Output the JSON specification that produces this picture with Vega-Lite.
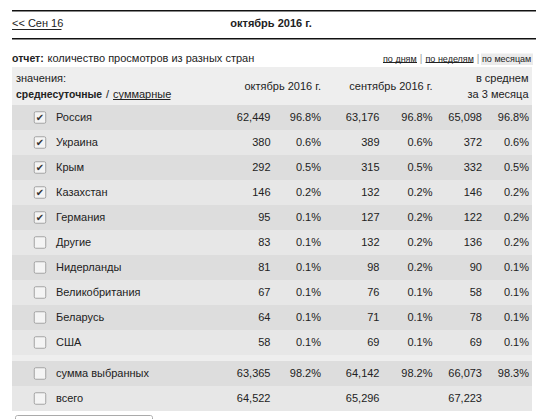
{
  "$schema": "https://vega.github.io/schema/vega-lite/v6.json",
  "width": 536,
  "height": 419,
  "autosize": {"type": "none"},
  "padding": 0,
  "background": "white",
  "config": {
    "view": {"stroke": null},
    "axis": {"disable": true},
    "text": {"font": "Liberation Sans", "fontSize": 11, "color": "#222", "baseline": "middle"}
  },
  "datasets": {
    "rows": [
      {"name": "Россия", "checked": true, "oct": 62449, "octPct": 0.968, "sep": 63176, "sepPct": 0.968, "avg": 65098, "avgPct": 0.968},
      {"name": "Украина", "checked": true, "oct": 380, "octPct": 0.006, "sep": 389, "sepPct": 0.006, "avg": 372, "avgPct": 0.006},
      {"name": "Крым", "checked": true, "oct": 292, "octPct": 0.005, "sep": 315, "sepPct": 0.005, "avg": 332, "avgPct": 0.005},
      {"name": "Казахстан", "checked": true, "oct": 146, "octPct": 0.002, "sep": 132, "sepPct": 0.002, "avg": 146, "avgPct": 0.002},
      {"name": "Германия", "checked": true, "oct": 95, "octPct": 0.001, "sep": 127, "sepPct": 0.002, "avg": 122, "avgPct": 0.002},
      {"name": "Другие", "checked": false, "oct": 83, "octPct": 0.001, "sep": 132, "sepPct": 0.002, "avg": 136, "avgPct": 0.002},
      {"name": "Нидерланды", "checked": false, "oct": 81, "octPct": 0.001, "sep": 98, "sepPct": 0.002, "avg": 90, "avgPct": 0.001},
      {"name": "Великобритания", "checked": false, "oct": 67, "octPct": 0.001, "sep": 76, "sepPct": 0.001, "avg": 58, "avgPct": 0.001},
      {"name": "Беларусь", "checked": false, "oct": 64, "octPct": 0.001, "sep": 71, "sepPct": 0.001, "avg": 78, "avgPct": 0.001},
      {"name": "США", "checked": false, "oct": 58, "octPct": 0.001, "sep": 69, "sepPct": 0.001, "avg": 69, "avgPct": 0.001}
    ],
    "totals": [
      {"name": "сумма выбранных", "checked": false, "oct": 63365, "octPct": 0.982, "sep": 64142, "sepPct": 0.982, "avg": 66073, "avgPct": 0.983},
      {"name": "всего", "checked": false, "oct": 64522, "sep": 65296, "avg": 67223}
    ],
    "blank": [{}]
  },
  "resolve": {"scale": {"y": "independent"}},
  "layer": [
    {"data": {"name": "blank"}, "mark": {"type": "rect", "fill": "#eeeeee"},
     "encoding": {"x": {"datum": 12, "scale": {"domain": [0, 536], "range": [0, 536], "nice": false, "zero": false}}, "x2": {"datum": 532},
                  "y": {"datum": 67, "scale": {"domain": [0, 419], "range": [0, 419], "nice": false, "zero": false}}, "y2": {"datum": 411}}},
    {"data": {"name": "blank"}, "mark": {"type": "rect", "fill": "#ffffff", "stroke": "#aaaaaa", "strokeWidth": 1, "cornerRadius": 2},
     "encoding": {"x": {"datum": 15.5}, "x2": {"datum": 152.5},
                  "y": {"datum": 415.5, "scale": {"domain": [0, 419], "range": [0, 419], "nice": false, "zero": false}}, "y2": {"datum": 440}}},
    {"data": {"name": "blank"}, "mark": {"type": "rule", "stroke": "#111", "strokeWidth": 1.5},
     "encoding": {"x": {"datum": 12}, "x2": {"datum": 536},
                  "y": {"datum": 10.7, "scale": {"domain": [0, 419], "range": [0, 419], "nice": false, "zero": false}}}},
    {"data": {"name": "blank"}, "mark": {"type": "rule", "stroke": "#111", "strokeWidth": 1.5},
     "encoding": {"x": {"datum": 12}, "x2": {"datum": 536},
                  "y": {"datum": 38.7, "scale": {"domain": [0, 419], "range": [0, 419], "nice": false, "zero": false}}}},
    {"data": {"name": "blank"}, "mark": {"type": "text", "text": "<< Сен 16", "align": "left"},
     "encoding": {"x": {"datum": 12}, "y": {"datum": 24.3, "scale": {"domain": [0, 419], "range": [0, 419], "nice": false, "zero": false}}}},
    {"data": {"name": "blank"}, "mark": {"type": "rule", "stroke": "#222", "strokeWidth": 1},
     "encoding": {"x": {"datum": 12}, "x2": {"datum": 61.5},
                  "y": {"datum": 29.5, "scale": {"domain": [0, 419], "range": [0, 419], "nice": false, "zero": false}}}},
    {"data": {"name": "blank"}, "mark": {"type": "text", "text": "октябрь 2016 г.", "align": "center", "fontWeight": "bold"},
     "encoding": {"x": {"datum": 271}, "y": {"datum": 24.3, "scale": {"domain": [0, 419], "range": [0, 419], "nice": false, "zero": false}}}},
    {"data": {"name": "blank"}, "mark": {"type": "text", "text": "отчет:", "align": "left", "fontWeight": "bold", "fontSize": 10.5},
     "encoding": {"x": {"datum": 12}, "y": {"datum": 59, "scale": {"domain": [0, 419], "range": [0, 419], "nice": false, "zero": false}}}},
    {"data": {"name": "blank"}, "mark": {"type": "text", "text": "количество просмотров из разных стран", "align": "left"},
     "encoding": {"x": {"datum": 47.5}, "y": {"datum": 59, "scale": {"domain": [0, 419], "range": [0, 419], "nice": false, "zero": false}}}},
    {"data": {"name": "blank"}, "mark": {"type": "rect", "fill": "#ebebeb"},
     "encoding": {"x": {"datum": 481}, "x2": {"datum": 533},
                  "y": {"datum": 53.5, "scale": {"domain": [0, 419], "range": [0, 419], "nice": false, "zero": false}}, "y2": {"datum": 65}}},
    {"data": {"name": "blank"}, "mark": {"type": "text", "text": "по дням", "align": "left", "fontSize": 9},
     "encoding": {"x": {"datum": 383}, "y": {"datum": 58.7, "scale": {"domain": [0, 419], "range": [0, 419], "nice": false, "zero": false}}}},
    {"data": {"name": "blank"}, "mark": {"type": "rule", "stroke": "#222", "strokeWidth": 1},
     "encoding": {"x": {"datum": 383}, "x2": {"datum": 417},
                  "y": {"datum": 62.5, "scale": {"domain": [0, 419], "range": [0, 419], "nice": false, "zero": false}}}},
    {"data": {"name": "blank"}, "mark": {"type": "text", "text": "|", "align": "center", "fontSize": 10, "color": "#999"},
     "encoding": {"x": {"datum": 421}, "y": {"datum": 58.7, "scale": {"domain": [0, 419], "range": [0, 419], "nice": false, "zero": false}}}},
    {"data": {"name": "blank"}, "mark": {"type": "text", "text": "по неделям", "align": "left", "fontSize": 9},
     "encoding": {"x": {"datum": 425.5}, "y": {"datum": 58.7, "scale": {"domain": [0, 419], "range": [0, 419], "nice": false, "zero": false}}}},
    {"data": {"name": "blank"}, "mark": {"type": "rule", "stroke": "#222", "strokeWidth": 1},
     "encoding": {"x": {"datum": 425.5}, "x2": {"datum": 473.5},
                  "y": {"datum": 62.5, "scale": {"domain": [0, 419], "range": [0, 419], "nice": false, "zero": false}}}},
    {"data": {"name": "blank"}, "mark": {"type": "text", "text": "|", "align": "center", "fontSize": 10, "color": "#999"},
     "encoding": {"x": {"datum": 478}, "y": {"datum": 58.7, "scale": {"domain": [0, 419], "range": [0, 419], "nice": false, "zero": false}}}},
    {"data": {"name": "blank"}, "mark": {"type": "text", "text": "по месяцам", "align": "left", "fontSize": 9},
     "encoding": {"x": {"datum": 482}, "y": {"datum": 58.7, "scale": {"domain": [0, 419], "range": [0, 419], "nice": false, "zero": false}}}},
    {"data": {"name": "blank"}, "mark": {"type": "text", "text": "значения:", "align": "left"},
     "encoding": {"x": {"datum": 16}, "y": {"datum": 78.5, "scale": {"domain": [0, 419], "range": [0, 419], "nice": false, "zero": false}}}},
    {"data": {"name": "blank"}, "mark": {"type": "text", "text": "среднесуточные", "align": "left", "fontWeight": "bold", "fontSize": 10.4},
     "encoding": {"x": {"datum": 16}, "y": {"datum": 94.5, "scale": {"domain": [0, 419], "range": [0, 419], "nice": false, "zero": false}}}},
    {"data": {"name": "blank"}, "mark": {"type": "text", "text": "/", "align": "left"},
     "encoding": {"x": {"datum": 106}, "y": {"datum": 94.5, "scale": {"domain": [0, 419], "range": [0, 419], "nice": false, "zero": false}}}},
    {"data": {"name": "blank"}, "mark": {"type": "text", "text": "суммарные", "align": "left"},
     "encoding": {"x": {"datum": 113}, "y": {"datum": 94.5, "scale": {"domain": [0, 419], "range": [0, 419], "nice": false, "zero": false}}}},
    {"data": {"name": "blank"}, "mark": {"type": "rule", "stroke": "#222", "strokeWidth": 1},
     "encoding": {"x": {"datum": 113}, "x2": {"datum": 170.5},
                  "y": {"datum": 99.5, "scale": {"domain": [0, 419], "range": [0, 419], "nice": false, "zero": false}}}},
    {"data": {"name": "blank"}, "mark": {"type": "text", "text": "октябрь 2016 г.", "align": "right"},
     "encoding": {"x": {"datum": 321}, "y": {"datum": 86.7, "scale": {"domain": [0, 419], "range": [0, 419], "nice": false, "zero": false}}}},
    {"data": {"name": "blank"}, "mark": {"type": "text", "text": "сентябрь 2016 г.", "align": "right"},
     "encoding": {"x": {"datum": 432.5}, "y": {"datum": 86.7, "scale": {"domain": [0, 419], "range": [0, 419], "nice": false, "zero": false}}}},
    {"data": {"name": "blank"}, "mark": {"type": "text", "text": "в среднем", "align": "right"},
     "encoding": {"x": {"datum": 528.5}, "y": {"datum": 79, "scale": {"domain": [0, 419], "range": [0, 419], "nice": false, "zero": false}}}},
    {"data": {"name": "blank"}, "mark": {"type": "text", "text": "за 3 месяца", "align": "right"},
     "encoding": {"x": {"datum": 528.5}, "y": {"datum": 94.5, "scale": {"domain": [0, 419], "range": [0, 419], "nice": false, "zero": false}}}},

    {"data": {"name": "rows"}, "transform": [{"window": [{"op": "row_number", "as": "idx"}]}],
     "mark": {"type": "rect"},
     "encoding": {"x": {"datum": 12}, "x2": {"datum": 532},
                  "y": {"field": "name", "type": "nominal", "sort": null, "scale": {"type": "band", "domain": ["Россия","Украина","Крым","Казахстан","Германия","Другие","Нидерланды","Великобритания","Беларусь","США"], "range": [105, 355], "paddingInner": 0, "paddingOuter": 0}},
                  "fill": {"condition": {"test": "datum.idx % 2 === 1", "value": "#dddddd"}, "value": "#e7e7e7"}}},
    {"data": {"name": "rows"},
     "mark": {"type": "point", "filled": true, "shape": "M -0.75 -1 L 0.75 -1 Q 1 -1 1 -0.75 L 1 0.75 Q 1 1 0.75 1 L -0.75 1 Q -1 1 -1 0.75 L -1 -0.75 Q -1 -1 -0.75 -1 Z", "size": 132, "fill": "#f4f4f4", "stroke": "#a3a3a3", "strokeWidth": 1, "opacity": 1},
     "encoding": {"x": {"datum": 40},
                  "y": {"field": "name", "type": "nominal", "sort": null, "bandPosition": 0.5, "scale": {"type": "band", "domain": ["Россия","Украина","Крым","Казахстан","Германия","Другие","Нидерланды","Великобритания","Беларусь","США"], "range": [105, 355], "paddingInner": 0, "paddingOuter": 0}}}},
    {"data": {"name": "rows"}, "transform": [{"filter": "datum.checked"}],
     "mark": {"type": "text", "text": "✔", "font": "DejaVu Sans", "fontSize": 10, "color": "#333", "align": "center"},
     "encoding": {"x": {"datum": 40},
                  "y": {"field": "name", "type": "nominal", "sort": null, "bandPosition": 0.5, "scale": {"type": "band", "domain": ["Россия","Украина","Крым","Казахстан","Германия","Другие","Нидерланды","Великобритания","Беларусь","США"], "range": [105, 355], "paddingInner": 0, "paddingOuter": 0}}}},
    {"data": {"name": "rows"},
     "mark": {"type": "text", "align": "left"},
     "encoding": {"x": {"datum": 56}, "text": {"field": "name"},
                  "y": {"field": "name", "type": "nominal", "sort": null, "bandPosition": 0.5, "scale": {"type": "band", "domain": ["Россия","Украина","Крым","Казахстан","Германия","Другие","Нидерланды","Великобритания","Беларусь","США"], "range": [105, 355], "paddingInner": 0, "paddingOuter": 0}}}},
    {"data": {"name": "rows"},
     "mark": {"type": "text", "align": "right"},
     "encoding": {"x": {"datum": 270.5}, "text": {"field": "oct", "type": "quantitative", "format": ","},
                  "y": {"field": "name", "type": "nominal", "sort": null, "bandPosition": 0.5, "scale": {"type": "band", "domain": ["Россия","Украина","Крым","Казахстан","Германия","Другие","Нидерланды","Великобритания","Беларусь","США"], "range": [105, 355], "paddingInner": 0, "paddingOuter": 0}}}},
    {"data": {"name": "rows"},
     "mark": {"type": "text", "align": "right"},
     "encoding": {"x": {"datum": 321}, "text": {"field": "octPct", "type": "quantitative", "format": ".1%"},
                  "y": {"field": "name", "type": "nominal", "sort": null, "bandPosition": 0.5, "scale": {"type": "band", "domain": ["Россия","Украина","Крым","Казахстан","Германия","Другие","Нидерланды","Великобритания","Беларусь","США"], "range": [105, 355], "paddingInner": 0, "paddingOuter": 0}}}},
    {"data": {"name": "rows"},
     "mark": {"type": "text", "align": "right"},
     "encoding": {"x": {"datum": 379.5}, "text": {"field": "sep", "type": "quantitative", "format": ","},
                  "y": {"field": "name", "type": "nominal", "sort": null, "bandPosition": 0.5, "scale": {"type": "band", "domain": ["Россия","Украина","Крым","Казахстан","Германия","Другие","Нидерланды","Великобритания","Беларусь","США"], "range": [105, 355], "paddingInner": 0, "paddingOuter": 0}}}},
    {"data": {"name": "rows"},
     "mark": {"type": "text", "align": "right"},
     "encoding": {"x": {"datum": 432.5}, "text": {"field": "sepPct", "type": "quantitative", "format": ".1%"},
                  "y": {"field": "name", "type": "nominal", "sort": null, "bandPosition": 0.5, "scale": {"type": "band", "domain": ["Россия","Украина","Крым","Казахстан","Германия","Другие","Нидерланды","Великобритания","Беларусь","США"], "range": [105, 355], "paddingInner": 0, "paddingOuter": 0}}}},
    {"data": {"name": "rows"},
     "mark": {"type": "text", "align": "right"},
     "encoding": {"x": {"datum": 482}, "text": {"field": "avg", "type": "quantitative", "format": ","},
                  "y": {"field": "name", "type": "nominal", "sort": null, "bandPosition": 0.5, "scale": {"type": "band", "domain": ["Россия","Украина","Крым","Казахстан","Германия","Другие","Нидерланды","Великобритания","Беларусь","США"], "range": [105, 355], "paddingInner": 0, "paddingOuter": 0}}}},
    {"data": {"name": "rows"},
     "mark": {"type": "text", "align": "right"},
     "encoding": {"x": {"datum": 529}, "text": {"field": "avgPct", "type": "quantitative", "format": ".1%"},
                  "y": {"field": "name", "type": "nominal", "sort": null, "bandPosition": 0.5, "scale": {"type": "band", "domain": ["Россия","Украина","Крым","Казахстан","Германия","Другие","Нидерланды","Великобритания","Беларусь","США"], "range": [105, 355], "paddingInner": 0, "paddingOuter": 0}}}},

    {"data": {"name": "totals"}, "transform": [{"window": [{"op": "row_number", "as": "idx"}]}],
     "mark": {"type": "rect"},
     "encoding": {"x": {"datum": 12}, "x2": {"datum": 532},
                  "y": {"field": "name", "type": "nominal", "sort": null, "scale": {"type": "band", "domain": ["сумма выбранных", "всего"], "range": [361, 411], "paddingInner": 0, "paddingOuter": 0}},
                  "fill": {"condition": {"test": "datum.idx % 2 === 1", "value": "#dddddd"}, "value": "#e7e7e7"}}},
    {"data": {"name": "totals"},
     "mark": {"type": "point", "filled": true, "shape": "M -0.75 -1 L 0.75 -1 Q 1 -1 1 -0.75 L 1 0.75 Q 1 1 0.75 1 L -0.75 1 Q -1 1 -1 0.75 L -1 -0.75 Q -1 -1 -0.75 -1 Z", "size": 132, "fill": "#f4f4f4", "stroke": "#a3a3a3", "strokeWidth": 1, "opacity": 1},
     "encoding": {"x": {"datum": 40},
                  "y": {"field": "name", "type": "nominal", "sort": null, "bandPosition": 0.5, "scale": {"type": "band", "domain": ["сумма выбранных", "всего"], "range": [361, 411], "paddingInner": 0, "paddingOuter": 0}}}},
    {"data": {"name": "totals"},
     "mark": {"type": "text", "align": "left"},
     "encoding": {"x": {"datum": 56}, "text": {"field": "name"},
                  "y": {"field": "name", "type": "nominal", "sort": null, "bandPosition": 0.5, "scale": {"type": "band", "domain": ["сумма выбранных", "всего"], "range": [361, 411], "paddingInner": 0, "paddingOuter": 0}}}},
    {"data": {"name": "totals"},
     "mark": {"type": "text", "align": "right"},
     "encoding": {"x": {"datum": 270.5}, "text": {"field": "oct", "type": "quantitative", "format": ","},
                  "y": {"field": "name", "type": "nominal", "sort": null, "bandPosition": 0.5, "scale": {"type": "band", "domain": ["сумма выбранных", "всего"], "range": [361, 411], "paddingInner": 0, "paddingOuter": 0}}}},
    {"data": {"name": "totals"}, "transform": [{"filter": "isValid(datum.octPct)"}],
     "mark": {"type": "text", "align": "right"},
     "encoding": {"x": {"datum": 321}, "text": {"field": "octPct", "type": "quantitative", "format": ".1%"},
                  "y": {"field": "name", "type": "nominal", "sort": null, "bandPosition": 0.5, "scale": {"type": "band", "domain": ["сумма выбранных", "всего"], "range": [361, 411], "paddingInner": 0, "paddingOuter": 0}}}},
    {"data": {"name": "totals"},
     "mark": {"type": "text", "align": "right"},
     "encoding": {"x": {"datum": 379.5}, "text": {"field": "sep", "type": "quantitative", "format": ","},
                  "y": {"field": "name", "type": "nominal", "sort": null, "bandPosition": 0.5, "scale": {"type": "band", "domain": ["сумма выбранных", "всего"], "range": [361, 411], "paddingInner": 0, "paddingOuter": 0}}}},
    {"data": {"name": "totals"}, "transform": [{"filter": "isValid(datum.sepPct)"}],
     "mark": {"type": "text", "align": "right"},
     "encoding": {"x": {"datum": 432.5}, "text": {"field": "sepPct", "type": "quantitative", "format": ".1%"},
                  "y": {"field": "name", "type": "nominal", "sort": null, "bandPosition": 0.5, "scale": {"type": "band", "domain": ["сумма выбранных", "всего"], "range": [361, 411], "paddingInner": 0, "paddingOuter": 0}}}},
    {"data": {"name": "totals"},
     "mark": {"type": "text", "align": "right"},
     "encoding": {"x": {"datum": 482}, "text": {"field": "avg", "type": "quantitative", "format": ","},
                  "y": {"field": "name", "type": "nominal", "sort": null, "bandPosition": 0.5, "scale": {"type": "band", "domain": ["сумма выбранных", "всего"], "range": [361, 411], "paddingInner": 0, "paddingOuter": 0}}}},
    {"data": {"name": "totals"}, "transform": [{"filter": "isValid(datum.avgPct)"}],
     "mark": {"type": "text", "align": "right"},
     "encoding": {"x": {"datum": 529}, "text": {"field": "avgPct", "type": "quantitative", "format": ".1%"},
                  "y": {"field": "name", "type": "nominal", "sort": null, "bandPosition": 0.5, "scale": {"type": "band", "domain": ["сумма выбранных", "всего"], "range": [361, 411], "paddingInner": 0, "paddingOuter": 0}}}}
  ]
}
